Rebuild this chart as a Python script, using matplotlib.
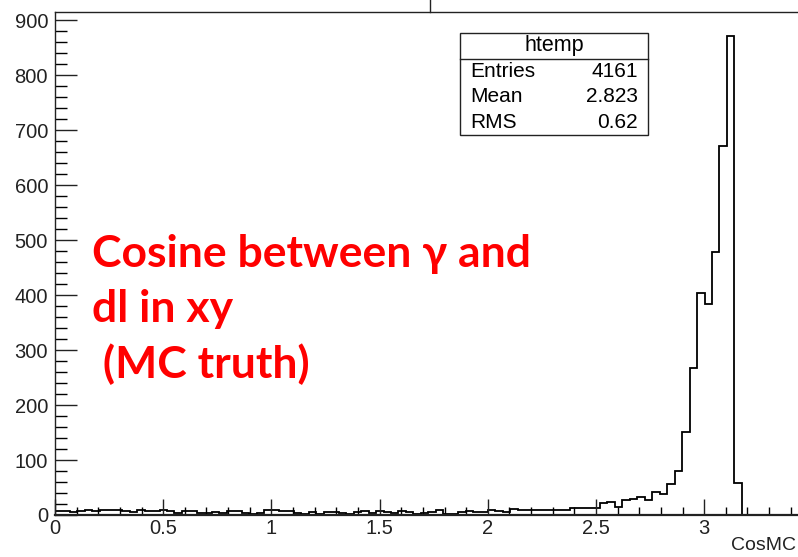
import numpy as np
import matplotlib
matplotlib.use("Agg")
import matplotlib.pyplot as plt
from matplotlib.patches import Rectangle
from matplotlib.lines import Line2D
from matplotlib.ticker import MultipleLocator, FuncFormatter

# Histogram of CosMC: 100 bins on [0, 3.45]
n_bins = 100
x_min, x_max = 0.0, 3.45
counts_low = [7, 8, 6, 7, 9, 8, 9, 10, 9, 7, 6, 9, 8, 7, 10,
              8, 3, 7, 8, 3, 4, 5, 3, 7, 8, 3, 1, 3, 9, 9,
              7, 8, 3, 2, 5, 2, 6, 5, 3, 1, 5, 7, 3, 7, 6,
              4, 7, 6, 2, 4, 5, 9, 2, 2, 5, 7, 5, 6, 9, 8,
              6, 11, 9, 9, 10, 9, 10, 10, 10, 12, 12, 12, 13]
counts_peak = [21, 24, 15, 28, 29, 33, 28, 41, 38, 56, 80, 151,
               268, 403, 384, 479, 671, 872, 58]
counts = np.zeros(n_bins)
counts[:len(counts_low)] = counts_low
counts[len(counts_low):len(counts_low) + len(counts_peak)] = counts_peak
edges = np.linspace(x_min, x_max, n_bins + 1)

stat_title = "htemp"
stat_names = ["Entries", "Mean", "RMS"]
stat_values = ["4161", "2.823", "0.62"]
x_title = "CosMC"
note_lines = ["Cosine between \u03b3 and", "dl in xy", " (MC truth)"]

W, H = 798, 557
fig = plt.figure(figsize=(W / 100, H / 100), dpi=100)
fig.patch.set_facecolor("white")

def fx(px):
    return px / W

def fy(py):
    return 1 - py / H

ax_left, ax_right, ax_top, ax_bottom = 55, 801.6, 11.7, 515
ax = fig.add_axes([fx(ax_left), fy(ax_bottom), (ax_right - ax_left) / W,
                   (ax_bottom - ax_top) / H])
ax.stairs(counts, edges, color="black", linewidth=1.3)
ax.set_xlim(x_min, x_max)
ax.set_ylim(0, 1.05 * counts.max())

for s in ax.spines.values():
    s.set_linewidth(1.0)
    s.set_color("#222222")
ax.spines["bottom"].set_linewidth(1.6)

ax.xaxis.set_major_locator(MultipleLocator(0.5))
ax.xaxis.set_minor_locator(MultipleLocator(0.1))
ax.yaxis.set_major_locator(MultipleLocator(100))
ax.yaxis.set_minor_locator(MultipleLocator(20))
ax.xaxis.set_major_formatter(FuncFormatter(lambda v, p: f"{v:g}"))

tick_font = "Liberation Sans"
ax.tick_params(axis="x", which="major", direction="in", length=11.5, width=1,
               pad=3, labelsize=14.5, colors="#222222", top=False)
ax.tick_params(axis="x", which="minor", direction="in", length=5.5, width=1, top=False)
ax.tick_params(axis="y", which="major", direction="in", length=16, width=1,
               pad=5, labelsize=14.5, colors="#222222", right=False)
ax.tick_params(axis="y", which="minor", direction="in", length=8.5, width=1, right=False)
for lab in ax.get_xticklabels() + ax.get_yticklabels():
    lab.set_fontfamily(tick_font)

# axis title at the right end of the x axis
fig.text(fx(796), fy(546), x_title, fontsize=14, family=tick_font,
         color="#222222", ha="right", va="center")

# short line above the frame
fig.add_artist(Line2D([fx(430), fx(430)], [fy(0), fy(ax_top)],
                      color="#222222", linewidth=1.0))

# statistics box
bx0, bx1, by0, by1, bsep = 460, 648, 33, 135, 59
fig.add_artist(Rectangle((fx(bx0), fy(by1)), (bx1 - bx0) / W, (by1 - by0) / H,
                         transform=fig.transFigure, facecolor="white",
                         edgecolor="#222222", linewidth=1.0, zorder=5))
fig.add_artist(Line2D([fx(bx0), fx(bx1)], [fy(bsep), fy(bsep)],
                      color="#222222", linewidth=1.0, zorder=6))
fig.text(fx((bx0 + bx1) / 2), fy((by0 + bsep) / 2), stat_title, fontsize=15.5,
         family=tick_font, ha="center", va="center", zorder=7)
row_h = (by1 - bsep) / 3
for i, (name, val) in enumerate(zip(stat_names, stat_values)):
    yc = bsep + row_h * (i + 0.5)
    fig.text(fx(470), fy(yc), name, fontsize=15, family=tick_font,
             ha="left", va="center", zorder=7)
    fig.text(fx(638), fy(yc), val, fontsize=15, family=tick_font,
             ha="right", va="center", zorder=7)

# annotation
baselines = [267, 322, 378]
for line, yb in zip(note_lines, baselines):
    fig.text(fx(92), fy(yb), line, fontsize=32, color="#ff0000",
             family=["Lato", "DejaVu Sans"], weight="bold",
             ha="left", va="baseline")

fig.savefig("out.png", dpi=100)
